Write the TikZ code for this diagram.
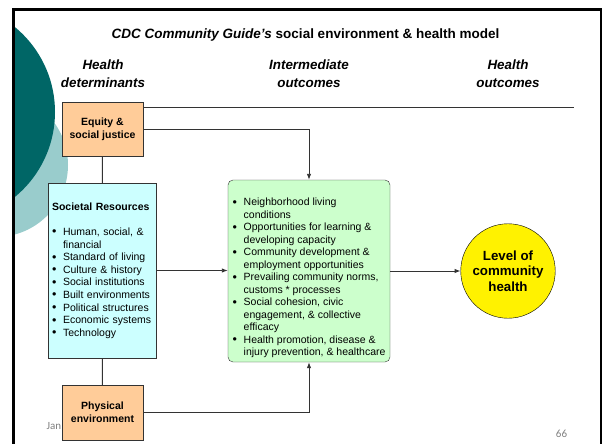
\documentclass[tikz,border=0pt]{standalone}
\usepackage{fontspec}
\setmainfont{Liberation Sans}
\newfontfamily\footfont{Carlito}
\usetikzlibrary{arrows.meta}

\definecolor{slideteal}{RGB}{0,102,102}
\definecolor{paleteal}{RGB}{153,204,204}
\definecolor{peach}{RGB}{255,204,153}
\definecolor{palecyan}{RGB}{204,255,255}
\definecolor{palegreen}{RGB}{204,255,204}
\definecolor{inkgray}{RGB}{51,51,51}
\definecolor{footgray}{RGB}{128,128,128}

\newcommand{\bodyfont}{\fontsize{10.5}{12.6}\selectfont}
\newcommand{\headfont}{\fontsize{13.4}{17.3}\selectfont\bfseries\itshape}
\newcommand{\bul}{\makebox[11pt][l]{\raisebox{-0.4pt}{\fontsize{12.5}{12}\selectfont\textbullet}}}
\newcommand{\ind}{\hspace*{11pt}}

\tikzstyle{determinant}=[draw=inkgray,fill=peach,minimum width=81pt,minimum height=54.5pt,inner sep=0pt,align=center,font=\bodyfont\bfseries]
\tikzstyle{resources}=[draw=inkgray,fill=palecyan,minimum width=108pt,minimum height=175pt,text width=100pt,inner xsep=4pt,align=left,font=\bodyfont]
\tikzstyle{outcomes}=[draw=inkgray,fill=palegreen,rounded corners=5pt,minimum width=162pt,minimum height=182pt]
\tikzstyle{itemlist}=[inner sep=0pt,align=left,font=\fontsize{10.5}{12.5}\selectfont]
\tikzstyle{goal}=[draw=black,fill=yellow,circle,minimum size=94.5pt,inner sep=0pt,align=center,font=\fontsize{13.3}{15.6}\selectfont\bfseries]
\tikzstyle{heading}=[inner sep=0pt,align=center,font=\headfont]
\tikzstyle{link}=[draw=inkgray,line width=0.9pt]
\tikzstyle{arrow}=[link,-{Latex[length=6pt,width=4.5pt]}]
\tikzstyle{footer}=[inner sep=0pt,text=footgray,font=\footfont\fontsize{11}{12}\selectfont]

\begin{document}
\begin{tikzpicture}[x=1pt,y=-1pt]
    \useasboundingbox (0,0) rectangle (602,444);
    % Slide background: the two teal discs and the frame
    \begin{scope}
        \clip (15,11) rectangle (600,444);
        \fill[paleteal] (-4,165) circle (72pt);
        \fill[slideteal] (-55,112) circle (110pt);
    \end{scope}
    \draw[line width=2.6pt] (13.5,470) |- (601,9.8) -- (601,470);

    % Title and column headings
    \node[inner sep=0pt,anchor=base,font=\fontsize{13.5}{16}\selectfont\bfseries] (title) at (305.5,38.3)
        {{\itshape CDC Community Guide's} social environment \& health model};
    \foreach \pos/\name/\txt in {{(103,73.7)/determinants/Health\\determinants},
                                 {(309,73.7)/intermediate/Intermediate\\outcomes},
                                 {(508,73.7)/healthout/Health\\outcomes}}
        \node[heading] (\name) at \pos {\txt};

    % Footer text sits under the lower box
    \node[footer,anchor=base west] (date) at (46.5,429) {Jan};
    \node[footer,anchor=base] (page) at (561.5,437.3) {66};

    % Health determinants
    \node[determinant] (equity) at (102.5,129) {Equity \&\\social justice};
    \node[resources] (societal) at (102,270.5) {\textbf{Societal Resources}\\[12.8pt]
        \bul Human, social, \&\\ \ind financial\\
        \bul Standard of living\\
        \bul Culture \& history\\
        \bul Social institutions\\
        \bul Built environments\\
        \bul Political structures\\
        \bul Economic systems\\
        \bul Technology};
    \node[determinant] (physical) at (102.5,412.5) {Physical\\environment};

    % Intermediate outcomes
    \node[outcomes] (outcomes) at (309,271) {};
    \node[itemlist,anchor=west] (outcomelist) at (232.5,278) {
        \bul Neighborhood living\\ \ind conditions\\
        \bul Opportunities for learning \&\\ \ind developing capacity\\
        \bul Community development \&\\ \ind employment opportunities\\
        \bul Prevailing community norms,\\ \ind customs * processes\\
        \bul Social cohesion, civic\\ \ind engagement, \& collective\\ \ind efficacy\\
        \bul Health promotion, disease \&\\ \ind injury prevention, \& healthcare};

    % Health outcome
    \node[goal] (health) at (508,271) {Level of\\community\\health};

    % Rule under the headings
    \coordinate (ruleend) at (574,107);
    \draw[link] (equity.east |- ruleend) -- (ruleend);

    % Connect the boxes
    \foreach \source/\dest in {equity/societal,societal/physical}
        \path[link] (\source) -- (\dest);
    \draw[arrow] (equity.east) -| (outcomes.north);
    \draw[arrow] (physical.east) -| (outcomes.south);
    \draw[arrow] (societal.east) -- (societal.east -| outcomes.west);
    \draw[arrow] (outcomes.east) -- (health.west);
\end{tikzpicture}
\end{document}
